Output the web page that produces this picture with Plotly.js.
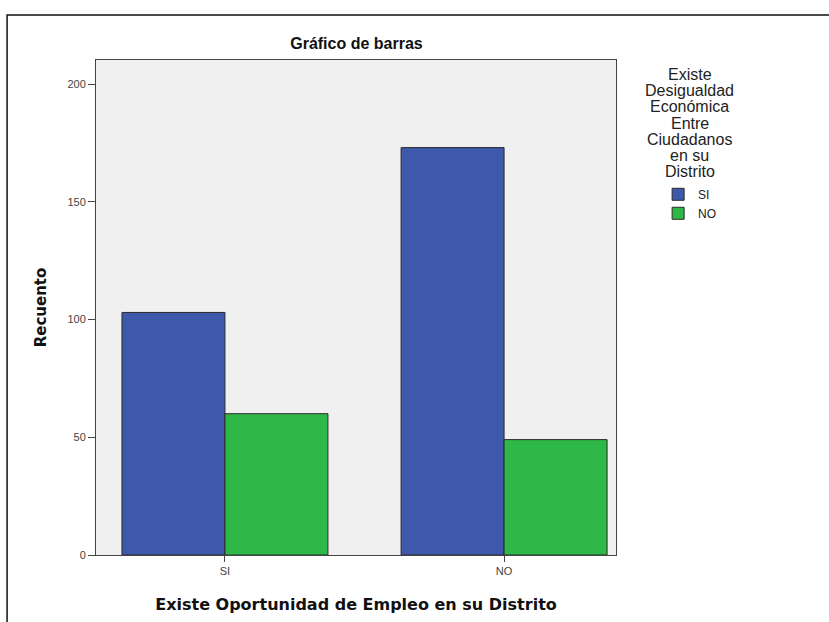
<!DOCTYPE html>
<html><head><meta charset="utf-8">
<script src="https://cdn.plot.ly/plotly-3.0.1.min.js"></script>
<style>body{margin:0;background:#fff}#c{width:829px;height:622px}</style>
</head><body><div id="c"></div>
<script>
const categories = ["SI", "NO"];
const seriesNames = ["SI", "NO"];
const valuesSI = [103, 173];
const valuesNO = [60, 49];
const colors = ["#3e58ac", "#2eb848"];
const legendTitleLines = ["Existe", "Desigualdad", "Económica", "Entre", "Ciudadanos", "en su", "Distrito"];

const traces = [valuesSI, valuesNO].map((v, i) => ({
  type: 'bar', name: seriesNames[i], x: categories, y: v,
  marker: {color: colors[i], line: {color: '#2a2a2a', width: 1}},
  hoverinfo: 'x+y+name'
}));

// plot area: top 60px, bottom 555px (495px tall)
const annotations = legendTitleLines.map((t, i) => ({
  text: t, xref: 'paper', yref: 'paper', x: 1.142, xanchor: 'center',
  y: (555 - (75 + i * 16)) / 495, yanchor: 'middle', showarrow: false,
  font: {family: 'Liberation Sans, Arial, sans-serif', size: 16, color: '#222'}
}));

const layout = {
  width: 829, height: 622,
  margin: {l: 96, r: 213, t: 60, b: 67},
  paper_bgcolor: '#ffffff', plot_bgcolor: '#f0f0f0',
  font: {family: 'Liberation Sans, Arial, sans-serif', color: '#222'},
  barmode: 'group', bargap: 0.262, bargroupgap: 0,
  title: {text: '<b>Gráfico de barras</b>', x: 0.43, xanchor: 'center', y: 0.93, yanchor: 'middle',
          font: {size: 16, color: '#111'}},
  xaxis: {
    range: [-0.462, 1.401], showgrid: false, zeroline: false,
    showline: true, linecolor: '#444', linewidth: 1, mirror: true,
    ticks: 'outside', ticklen: 6, tickcolor: '#444',
    tickfont: {size: 11, color: '#444'},
    title: {text: '<b>Existe Oportunidad de Empleo en su Distrito</b>',
            font: {family: 'DejaVu Sans, Verdana, sans-serif', size: 16, color: '#111'}, standoff: 22}
  },
  yaxis: {
    range: [0, 210.2], tickvals: [0, 50, 100, 150, 200], showgrid: false, zeroline: false,
    showline: true, linecolor: '#444', linewidth: 1, mirror: true,
    ticks: 'outside', ticklen: 7, tickcolor: '#444',
    tickfont: {size: 11, color: '#444'},
    title: {text: '<b>Recuento</b>', font: {family: 'DejaVu Sans, Verdana, sans-serif', size: 15, color: '#111'}, standoff: 17}
  },
  legend: {
    x: 1.081, xanchor: 'left', y: 0.758, yanchor: 'top',
    font: {size: 12, color: '#222'}, itemwidth: 30, tracegroupgap: 0,
    bgcolor: 'rgba(0,0,0,0)'
  },
  annotations: annotations,
  shapes: [{type: 'rect', xref: 'paper', yref: 'paper', x0: -0.171, x1: 2, y0: -1, y1: 1.0909,
            line: {color: '#111', width: 1.5}, fillcolor: 'rgba(0,0,0,0)', layer: 'below'}]
};
Plotly.newPlot('c', traces, layout, {displayModeBar: false, staticPlot: true});
</script></body></html>
